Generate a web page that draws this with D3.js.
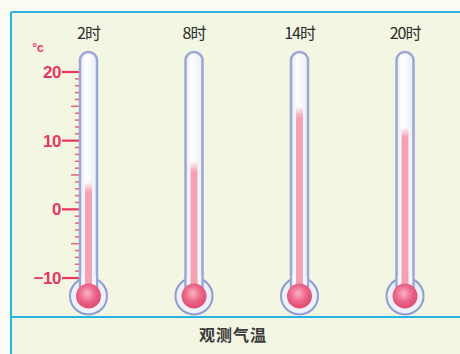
<!DOCTYPE html>
<html><head><meta charset="utf-8">
<script src="https://cdn.jsdelivr.net/npm/d3@7"></script>
<style>body{margin:0;background:#fff}svg{display:block}</style>
</head><body>
<script>
const categories = ["2时", "8时", "14时", "20时"];
const temps = [4, 7, 15, 12];
const majorTicks = [20, 10, 0, -10];
const tickLabels = ["20", "10", "0", "−10"];
const title = "观测气温";
const unit = "°c";

const W = 460, H = 354;
const svg = d3.select("body").append("svg").attr("width", W).attr("height", H);
const defs = svg.append("defs");

const rg = defs.append("radialGradient").attr("id", "ball").attr("cx", "45%").attr("cy", "40%").attr("r", "60%");
rg.append("stop").attr("offset", "0%").attr("stop-color", "#f9b3c3");
rg.append("stop").attr("offset", "55%").attr("stop-color", "#ec6688");
rg.append("stop").attr("offset", "100%").attr("stop-color", "#e04a70");

const lg = defs.append("linearGradient").attr("id", "col").attr("x1", 0).attr("x2", 0).attr("y1", 0).attr("y2", 1);
lg.append("stop").attr("offset", "0%").attr("stop-color", "#f7b0bf").attr("stop-opacity", 0);
lg.append("stop").attr("offset", "100%").attr("stop-color", "#f5a1b3").attr("stop-opacity", 1);

const tg = defs.append("linearGradient").attr("id", "tube").attr("x1", 0).attr("x2", 1).attr("y1", 0).attr("y2", 0);
tg.append("stop").attr("offset", "0%").attr("stop-color", "#e6e9f8");
tg.append("stop").attr("offset", "35%").attr("stop-color", "#ffffff");
tg.append("stop").attr("offset", "100%").attr("stop-color", "#eceef9");

// background
svg.append("rect").attr("x", 0).attr("y", 0).attr("width", W).attr("height", H).attr("fill", "#fbfdf5");
svg.append("rect").attr("x", 11).attr("y", 12).attr("width", W - 11).attr("height", H - 12).attr("fill", "#f2f6e2");

const y = d3.scaleLinear().domain([-10, 20]).range([278, 72]);
const x = d3.scalePoint().domain(categories).range([88.5, 405]);

// borders
svg.append("line").attr("x1", 11).attr("x2", W).attr("y1", 12).attr("y2", 12).attr("stroke", "#28b4e2").attr("stroke-width", 2);
svg.append("line").attr("x1", 11).attr("x2", 11).attr("y1", 12).attr("y2", H).attr("stroke", "#28b4e2").attr("stroke-width", 2);
svg.append("line").attr("x1", 11).attr("x2", W).attr("y1", 317).attr("y2", 317).attr("stroke", "#28b4e2").attr("stroke-width", 2);

// axis ticks
const tubeLeft = x(categories[0]) - 8.5;
const axisG = svg.append("g");
const minor = d3.range(-11, 21);
axisG.selectAll("line.minor").data(minor).join("line")
  .attr("x1", d => tubeLeft - (d % 10 === 0 ? 18 : d % 5 === 0 ? 9 : 5))
  .attr("x2", tubeLeft - 1)
  .attr("y1", d => y(d)).attr("y2", d => y(d))
  .attr("stroke", d => d % 10 === 0 ? "#e8365e" : "#ec5f7e")
  .attr("stroke-width", d => d % 10 === 0 ? 2.2 : 1.5);
axisG.selectAll("text").data(majorTicks).join("text")
  .attr("x", tubeLeft - 19).attr("y", d => y(d)).attr("dy", "0.36em")
  .attr("text-anchor", "end")
  .attr("font-family", "Liberation Sans, Arial, sans-serif").attr("font-weight", "bold").attr("font-size", 17)
  .attr("letter-spacing", -0.5)
  .attr("fill", "#e8365e")
  .text((d, i) => tickLabels[i]);
svg.append("text").attr("x", 38).attr("y", 52).attr("text-anchor", "middle")
  .attr("font-family", "Liberation Sans, Arial, sans-serif").attr("font-weight", "bold").attr("font-size", 12)
  .attr("fill", "#e8365e").text(unit);

// thermometers
const tw = 17, tubeTop = 52, bulbY = 296;
const g = svg.selectAll("g.th").data(categories).join("g").attr("class", "th")
  .attr("transform", d => `translate(${x(d)},0)`);

g.append("circle").attr("cx", 0).attr("cy", bulbY).attr("r", 18.5).attr("fill", "#eef0fb").attr("stroke", "#8f9cd2").attr("stroke-width", 2);
g.append("rect").attr("x", -tw / 2).attr("y", tubeTop).attr("width", tw).attr("height", bulbY - tubeTop)
  .attr("rx", tw / 2).attr("fill", "url(#tube)").attr("stroke", "#9ba6d8").attr("stroke-width", 2.5);
g.append("rect").attr("x", -tw / 2 + 1.25).attr("y", bulbY - 20).attr("width", tw - 2.5).attr("height", 12).attr("fill", "#f4f5fc");
g.append("rect").attr("x", -3.5).attr("y", (d, i) => y(temps[i])).attr("width", 7).attr("height", 10).attr("fill", "url(#col)");
g.append("rect").attr("x", -3.5).attr("y", (d, i) => y(temps[i]) + 10).attr("width", 7)
  .attr("height", (d, i) => bulbY - y(temps[i]) - 10).attr("fill", "#f5a1b3");
g.append("circle").attr("cx", 0).attr("cy", bulbY).attr("r", 12.5).attr("fill", "url(#ball)");

// category labels
g.append("text").attr("x", 0).attr("y", 39).attr("text-anchor", "middle")
  .attr("font-family", "Noto Sans CJK SC, sans-serif").attr("font-size", 16).attr("fill", "#2e2e2e")
  .attr("letter-spacing", -1).text(d => d);

svg.append("text").attr("x", 233).attr("y", 341).attr("text-anchor", "middle")
  .attr("font-family", "Noto Sans CJK SC, sans-serif").attr("font-weight", "bold").attr("font-size", 16)
  .attr("fill", "#3a3a3a").attr("letter-spacing", 1).text(title);
</script>
</body></html>
